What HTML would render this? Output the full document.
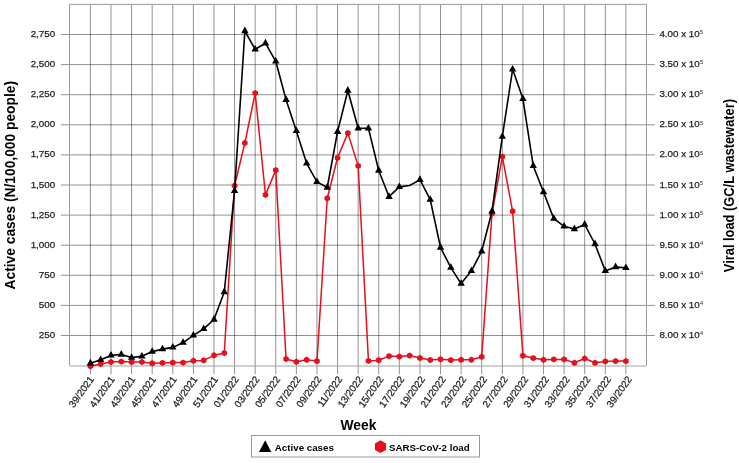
<!DOCTYPE html>
<html><head><meta charset="utf-8"><style>
html,body{margin:0;padding:0;background:#fff;width:739px;height:463px;overflow:hidden}
svg{display:block;font-family:"Liberation Sans",sans-serif;will-change:transform}
.t{fill:#1e1e1e;stroke:#1e1e1e;stroke-width:0.25px}
</style></head><body>
<svg width="739" height="463" viewBox="0 0 739 463">
<rect x="0" y="0" width="739" height="463" fill="#fff"/>
<path d="M90.40 4.4V374.20M110.99 4.4V374.20M131.59 4.4V374.20M152.18 4.4V374.20M172.78 4.4V374.20M193.38 4.4V374.20M213.97 4.4V374.20M234.57 4.4V374.20M255.16 4.4V374.20M275.76 4.4V374.20M296.36 4.4V374.20M316.95 4.4V374.20M337.55 4.4V374.20M358.14 4.4V374.20M378.74 4.4V374.20M399.34 4.4V374.20M419.93 4.4V374.20M440.53 4.4V374.20M461.12 4.4V374.20M481.72 4.4V374.20M502.32 4.4V374.20M522.91 4.4V374.20M543.51 4.4V374.20M564.10 4.4V374.20M584.70 4.4V374.20M605.30 4.4V374.20M625.89 4.4V374.20M60.90 34.50H654.80M60.90 64.60H654.80M60.90 94.70H654.80M60.90 124.80H654.80M60.90 154.90H654.80M60.90 185.00H654.80M60.90 215.10H654.80M60.90 245.20H654.80M60.90 275.30H654.80M60.90 305.40H654.80M60.90 335.50H654.80" stroke="#000" stroke-opacity="0.43" stroke-width="1" fill="none"/>
<path d="M69.5 365.6V4.4H646.5V365.6" stroke="#9a9a9a" stroke-width="1" fill="none"/>
<path d="M69.5 366H646.5" stroke="#a0a0a0" stroke-width="1" fill="none"/>
<path d="M90.40 366.20 L100.70 364.00 L111.00 362.00 L121.29 361.60 L131.59 362.10 L141.89 362.00 L152.19 363.30 L162.49 362.90 L172.78 362.60 L183.08 362.60 L193.38 360.80 L203.68 360.40 L213.98 355.30 L224.27 353.00 L234.57 185.70 L244.87 143.00 L255.17 93.10 L265.47 194.90 L275.76 170.10 L286.06 359.00 L296.36 361.80 L306.66 359.80 L316.96 361.10 L327.25 198.30 L337.55 157.80 L347.85 133.10 L358.15 165.90 L368.45 360.90 L378.74 360.20 L389.04 356.10 L399.34 356.60 L409.64 355.60 L419.94 358.00 L430.23 360.00 L440.53 359.30 L450.83 360.10 L461.13 359.80 L471.43 359.80 L481.72 356.80 L492.02 213.60 L502.32 156.70 L512.62 211.30 L522.92 355.70 L533.21 358.10 L543.51 359.80 L553.81 359.40 L564.11 359.40 L574.41 362.80 L584.70 358.50 L595.00 362.80 L605.30 361.40 L615.60 361.10 L625.90 361.10" stroke="#e5101c" stroke-width="1.5" fill="none" stroke-linejoin="round"/>
<path d="M90.40 363.00L93.17 364.60L93.17 367.80L90.40 369.40L87.63 367.80L87.63 364.60ZM100.70 360.80L103.47 362.40L103.47 365.60L100.70 367.20L97.93 365.60L97.93 362.40ZM111.00 358.80L113.77 360.40L113.77 363.60L111.00 365.20L108.22 363.60L108.22 360.40ZM121.29 358.40L124.07 360.00L124.07 363.20L121.29 364.80L118.52 363.20L118.52 360.00ZM131.59 358.90L134.36 360.50L134.36 363.70L131.59 365.30L128.82 363.70L128.82 360.50ZM141.89 358.80L144.66 360.40L144.66 363.60L141.89 365.20L139.12 363.60L139.12 360.40ZM152.19 360.10L154.96 361.70L154.96 364.90L152.19 366.50L149.42 364.90L149.42 361.70ZM162.49 359.70L165.26 361.30L165.26 364.50L162.49 366.10L159.71 364.50L159.71 361.30ZM172.78 359.40L175.56 361.00L175.56 364.20L172.78 365.80L170.01 364.20L170.01 361.00ZM183.08 359.40L185.85 361.00L185.85 364.20L183.08 365.80L180.31 364.20L180.31 361.00ZM193.38 357.60L196.15 359.20L196.15 362.40L193.38 364.00L190.61 362.40L190.61 359.20ZM203.68 357.20L206.45 358.80L206.45 362.00L203.68 363.60L200.91 362.00L200.91 358.80ZM213.98 352.10L216.75 353.70L216.75 356.90L213.98 358.50L211.20 356.90L211.20 353.70ZM224.27 349.80L227.05 351.40L227.05 354.60L224.27 356.20L221.50 354.60L221.50 351.40ZM234.57 182.50L237.34 184.10L237.34 187.30L234.57 188.90L231.80 187.30L231.80 184.10ZM244.87 139.80L247.64 141.40L247.64 144.60L244.87 146.20L242.10 144.60L242.10 141.40ZM255.17 89.90L257.94 91.50L257.94 94.70L255.17 96.30L252.40 94.70L252.40 91.50ZM265.47 191.70L268.24 193.30L268.24 196.50L265.47 198.10L262.69 196.50L262.69 193.30ZM275.76 166.90L278.54 168.50L278.54 171.70L275.76 173.30L272.99 171.70L272.99 168.50ZM286.06 355.80L288.83 357.40L288.83 360.60L286.06 362.20L283.29 360.60L283.29 357.40ZM296.36 358.60L299.13 360.20L299.13 363.40L296.36 365.00L293.59 363.40L293.59 360.20ZM306.66 356.60L309.43 358.20L309.43 361.40L306.66 363.00L303.89 361.40L303.89 358.20ZM316.96 357.90L319.73 359.50L319.73 362.70L316.96 364.30L314.18 362.70L314.18 359.50ZM327.25 195.10L330.03 196.70L330.03 199.90L327.25 201.50L324.48 199.90L324.48 196.70ZM337.55 154.60L340.32 156.20L340.32 159.40L337.55 161.00L334.78 159.40L334.78 156.20ZM347.85 129.90L350.62 131.50L350.62 134.70L347.85 136.30L345.08 134.70L345.08 131.50ZM358.15 162.70L360.92 164.30L360.92 167.50L358.15 169.10L355.38 167.50L355.38 164.30ZM368.45 357.70L371.22 359.30L371.22 362.50L368.45 364.10L365.67 362.50L365.67 359.30ZM378.74 357.00L381.52 358.60L381.52 361.80L378.74 363.40L375.97 361.80L375.97 358.60ZM389.04 352.90L391.81 354.50L391.81 357.70L389.04 359.30L386.27 357.70L386.27 354.50ZM399.34 353.40L402.11 355.00L402.11 358.20L399.34 359.80L396.57 358.20L396.57 355.00ZM409.64 352.40L412.41 354.00L412.41 357.20L409.64 358.80L406.87 357.20L406.87 354.00ZM419.94 354.80L422.71 356.40L422.71 359.60L419.94 361.20L417.16 359.60L417.16 356.40ZM430.23 356.80L433.01 358.40L433.01 361.60L430.23 363.20L427.46 361.60L427.46 358.40ZM440.53 356.10L443.30 357.70L443.30 360.90L440.53 362.50L437.76 360.90L437.76 357.70ZM450.83 356.90L453.60 358.50L453.60 361.70L450.83 363.30L448.06 361.70L448.06 358.50ZM461.13 356.60L463.90 358.20L463.90 361.40L461.13 363.00L458.36 361.40L458.36 358.20ZM471.43 356.60L474.20 358.20L474.20 361.40L471.43 363.00L468.65 361.40L468.65 358.20ZM481.72 353.60L484.50 355.20L484.50 358.40L481.72 360.00L478.95 358.40L478.95 355.20ZM492.02 210.40L494.79 212.00L494.79 215.20L492.02 216.80L489.25 215.20L489.25 212.00ZM502.32 153.50L505.09 155.10L505.09 158.30L502.32 159.90L499.55 158.30L499.55 155.10ZM512.62 208.10L515.39 209.70L515.39 212.90L512.62 214.50L509.85 212.90L509.85 209.70ZM522.92 352.50L525.69 354.10L525.69 357.30L522.92 358.90L520.14 357.30L520.14 354.10ZM533.21 354.90L535.99 356.50L535.99 359.70L533.21 361.30L530.44 359.70L530.44 356.50ZM543.51 356.60L546.28 358.20L546.28 361.40L543.51 363.00L540.74 361.40L540.74 358.20ZM553.81 356.20L556.58 357.80L556.58 361.00L553.81 362.60L551.04 361.00L551.04 357.80ZM564.11 356.20L566.88 357.80L566.88 361.00L564.11 362.60L561.34 361.00L561.34 357.80ZM574.41 359.60L577.18 361.20L577.18 364.40L574.41 366.00L571.63 364.40L571.63 361.20ZM584.70 355.30L587.48 356.90L587.48 360.10L584.70 361.70L581.93 360.10L581.93 356.90ZM595.00 359.60L597.77 361.20L597.77 364.40L595.00 366.00L592.23 364.40L592.23 361.20ZM605.30 358.20L608.07 359.80L608.07 363.00L605.30 364.60L602.53 363.00L602.53 359.80ZM615.60 357.90L618.37 359.50L618.37 362.70L615.60 364.30L612.83 362.70L612.83 359.50ZM625.90 357.90L628.67 359.50L628.67 362.70L625.90 364.30L623.12 362.70L623.12 359.50Z" fill="#e5101c"/>
<path d="M90.40 363.20 L100.70 359.80 L111.00 355.40 L121.29 354.50 L131.59 357.60 L141.89 356.30 L152.19 351.60 L162.49 349.10 L172.78 347.40 L183.08 342.60 L193.38 335.40 L203.68 328.80 L213.98 319.50 L224.27 292.00 L234.57 190.80 L244.87 31.00 L255.17 49.30 L265.47 43.20 L275.76 61.30 L286.06 99.70 L296.36 130.90 L306.66 163.30 L316.96 181.90 L327.25 187.50 L337.55 131.70 L347.85 90.50 L358.15 128.20 L368.45 128.40 L378.74 170.50 L389.04 196.70 L399.34 186.90 L409.64 185.50 L419.94 179.70 L430.23 199.60 L440.53 247.50 L450.83 267.60 L461.13 283.60 L471.43 270.80 L481.72 251.20 L492.02 211.20 L502.32 136.60 L512.62 69.30 L522.92 98.80 L533.21 165.70 L543.51 192.00 L553.81 218.60 L564.11 226.30 L574.41 229.00 L584.70 224.50 L595.00 244.00 L605.30 270.90 L615.60 267.00 L625.90 267.90" stroke="#000" stroke-width="1.6" fill="none" stroke-linejoin="round"/>
<path d="M90.40 358.80L94.10 365.40L86.70 365.40ZM100.70 355.40L104.40 362.00L97.00 362.00ZM111.00 351.00L114.70 357.60L107.30 357.60ZM121.29 350.10L124.99 356.70L117.59 356.70ZM131.59 353.20L135.29 359.80L127.89 359.80ZM141.89 351.90L145.59 358.50L138.19 358.50ZM152.19 347.20L155.89 353.80L148.49 353.80ZM162.49 344.70L166.19 351.30L158.79 351.30ZM172.78 343.00L176.48 349.60L169.08 349.60ZM183.08 338.20L186.78 344.80L179.38 344.80ZM193.38 331.00L197.08 337.60L189.68 337.60ZM203.68 324.40L207.38 331.00L199.98 331.00ZM213.98 315.10L217.68 321.70L210.28 321.70ZM224.27 287.60L227.97 294.20L220.57 294.20ZM234.57 186.40L238.27 193.00L230.87 193.00ZM244.87 26.60L248.57 33.20L241.17 33.20ZM255.17 44.90L258.87 51.50L251.47 51.50ZM265.47 38.80L269.17 45.40L261.77 45.40ZM275.76 56.90L279.46 63.50L272.06 63.50ZM286.06 95.30L289.76 101.90L282.36 101.90ZM296.36 126.50L300.06 133.10L292.66 133.10ZM306.66 158.90L310.36 165.50L302.96 165.50ZM316.96 177.50L320.66 184.10L313.26 184.10ZM327.25 183.10L330.95 189.70L323.55 189.70ZM337.55 127.30L341.25 133.90L333.85 133.90ZM347.85 86.10L351.55 92.70L344.15 92.70ZM358.15 123.80L361.85 130.40L354.45 130.40ZM368.45 124.00L372.15 130.60L364.75 130.60ZM378.74 166.10L382.44 172.70L375.04 172.70ZM389.04 192.30L392.74 198.90L385.34 198.90ZM399.34 182.50L403.04 189.10L395.64 189.10ZM419.94 175.30L423.64 181.90L416.24 181.90ZM430.23 195.20L433.93 201.80L426.53 201.80ZM440.53 243.10L444.23 249.70L436.83 249.70ZM450.83 263.20L454.53 269.80L447.13 269.80ZM461.13 279.20L464.83 285.80L457.43 285.80ZM471.43 266.40L475.13 273.00L467.73 273.00ZM481.72 246.80L485.42 253.40L478.02 253.40ZM492.02 206.80L495.72 213.40L488.32 213.40ZM502.32 132.20L506.02 138.80L498.62 138.80ZM512.62 64.90L516.32 71.50L508.92 71.50ZM522.92 94.40L526.62 101.00L519.22 101.00ZM533.21 161.30L536.91 167.90L529.51 167.90ZM543.51 187.60L547.21 194.20L539.81 194.20ZM553.81 214.20L557.51 220.80L550.11 220.80ZM564.11 221.90L567.81 228.50L560.41 228.50ZM574.41 224.60L578.11 231.20L570.71 231.20ZM584.70 220.10L588.40 226.70L581.00 226.70ZM595.00 239.60L598.70 246.20L591.30 246.20ZM605.30 266.50L609.00 273.10L601.60 273.10ZM615.60 262.60L619.30 269.20L611.90 269.20ZM625.90 263.50L629.60 270.10L622.20 270.10Z" fill="#000"/>
<text x="55.2" y="37.00" text-anchor="end" font-size="9.8" class="t">2,750</text>
<text x="55.2" y="67.10" text-anchor="end" font-size="9.8" class="t">2,500</text>
<text x="55.2" y="97.20" text-anchor="end" font-size="9.8" class="t">2,250</text>
<text x="55.2" y="127.30" text-anchor="end" font-size="9.8" class="t">2,000</text>
<text x="55.2" y="157.40" text-anchor="end" font-size="9.8" class="t">1,750</text>
<text x="55.2" y="187.50" text-anchor="end" font-size="9.8" class="t">1,500</text>
<text x="55.2" y="217.60" text-anchor="end" font-size="9.8" class="t">1,250</text>
<text x="55.2" y="247.70" text-anchor="end" font-size="9.8" class="t">1,000</text>
<text x="55.2" y="277.80" text-anchor="end" font-size="9.8" class="t">750</text>
<text x="55.2" y="307.90" text-anchor="end" font-size="9.8" class="t">500</text>
<text x="55.2" y="338.00" text-anchor="end" font-size="9.8" class="t">250</text>
<text x="659.4" y="37.00" font-size="9.8" class="t">4.00 x 10<tspan font-size="5.6" dx="0.3" dy="-2.8" style="stroke-width:0">5</tspan></text>
<text x="659.4" y="67.10" font-size="9.8" class="t">3.50 x 10<tspan font-size="5.6" dx="0.3" dy="-2.8" style="stroke-width:0">5</tspan></text>
<text x="659.4" y="97.20" font-size="9.8" class="t">3.00 x 10<tspan font-size="5.6" dx="0.3" dy="-2.8" style="stroke-width:0">5</tspan></text>
<text x="659.4" y="127.30" font-size="9.8" class="t">2.50 x 10<tspan font-size="5.6" dx="0.3" dy="-2.8" style="stroke-width:0">5</tspan></text>
<text x="659.4" y="157.40" font-size="9.8" class="t">2.00 x 10<tspan font-size="5.6" dx="0.3" dy="-2.8" style="stroke-width:0">5</tspan></text>
<text x="659.4" y="187.50" font-size="9.8" class="t">1.50 x 10<tspan font-size="5.6" dx="0.3" dy="-2.8" style="stroke-width:0">5</tspan></text>
<text x="659.4" y="217.60" font-size="9.8" class="t">1.00 x 10<tspan font-size="5.6" dx="0.3" dy="-2.8" style="stroke-width:0">5</tspan></text>
<text x="659.4" y="247.70" font-size="9.8" class="t">9.50 x 10<tspan font-size="5.6" dx="0.3" dy="-2.8" style="stroke-width:0">4</tspan></text>
<text x="659.4" y="277.80" font-size="9.8" class="t">9.00 x 10<tspan font-size="5.6" dx="0.3" dy="-2.8" style="stroke-width:0">4</tspan></text>
<text x="659.4" y="307.90" font-size="9.8" class="t">8.50 x 10<tspan font-size="5.6" dx="0.3" dy="-2.8" style="stroke-width:0">4</tspan></text>
<text x="659.4" y="338.00" font-size="9.8" class="t">8.00 x 10<tspan font-size="5.6" dx="0.3" dy="-2.8" style="stroke-width:0">4</tspan></text>
<text transform="translate(94.40 379.20) rotate(-54.6)" text-anchor="end" font-size="9.85" class="t">39/2021</text>
<text transform="translate(115.08 379.20) rotate(-54.6)" text-anchor="end" font-size="9.85" class="t">41/2021</text>
<text transform="translate(135.77 379.20) rotate(-54.6)" text-anchor="end" font-size="9.85" class="t">43/2021</text>
<text transform="translate(156.45 379.20) rotate(-54.6)" text-anchor="end" font-size="9.85" class="t">45/2021</text>
<text transform="translate(177.14 379.20) rotate(-54.6)" text-anchor="end" font-size="9.85" class="t">47/2021</text>
<text transform="translate(197.83 379.20) rotate(-54.6)" text-anchor="end" font-size="9.85" class="t">49/2021</text>
<text transform="translate(218.51 379.20) rotate(-54.6)" text-anchor="end" font-size="9.85" class="t">51/2021</text>
<text transform="translate(239.20 379.20) rotate(-54.6)" text-anchor="end" font-size="9.85" class="t">01/2022</text>
<text transform="translate(259.88 379.20) rotate(-54.6)" text-anchor="end" font-size="9.85" class="t">03/2022</text>
<text transform="translate(280.57 379.20) rotate(-54.6)" text-anchor="end" font-size="9.85" class="t">05/2022</text>
<text transform="translate(301.26 379.20) rotate(-54.6)" text-anchor="end" font-size="9.85" class="t">07/2022</text>
<text transform="translate(321.94 379.20) rotate(-54.6)" text-anchor="end" font-size="9.85" class="t">09/2022</text>
<text transform="translate(342.63 379.20) rotate(-54.6)" text-anchor="end" font-size="9.85" class="t">11/2022</text>
<text transform="translate(363.31 379.20) rotate(-54.6)" text-anchor="end" font-size="9.85" class="t">13/2022</text>
<text transform="translate(384.00 379.20) rotate(-54.6)" text-anchor="end" font-size="9.85" class="t">15/2022</text>
<text transform="translate(404.69 379.20) rotate(-54.6)" text-anchor="end" font-size="9.85" class="t">17/2022</text>
<text transform="translate(425.37 379.20) rotate(-54.6)" text-anchor="end" font-size="9.85" class="t">19/2022</text>
<text transform="translate(446.06 379.20) rotate(-54.6)" text-anchor="end" font-size="9.85" class="t">21/2022</text>
<text transform="translate(466.74 379.20) rotate(-54.6)" text-anchor="end" font-size="9.85" class="t">23/2022</text>
<text transform="translate(487.43 379.20) rotate(-54.6)" text-anchor="end" font-size="9.85" class="t">25/2022</text>
<text transform="translate(508.12 379.20) rotate(-54.6)" text-anchor="end" font-size="9.85" class="t">27/2022</text>
<text transform="translate(528.80 379.20) rotate(-54.6)" text-anchor="end" font-size="9.85" class="t">29/2022</text>
<text transform="translate(549.49 379.20) rotate(-54.6)" text-anchor="end" font-size="9.85" class="t">31/2022</text>
<text transform="translate(570.17 379.20) rotate(-54.6)" text-anchor="end" font-size="9.85" class="t">33/2022</text>
<text transform="translate(590.86 379.20) rotate(-54.6)" text-anchor="end" font-size="9.85" class="t">35/2022</text>
<text transform="translate(611.55 379.20) rotate(-54.6)" text-anchor="end" font-size="9.85" class="t">37/2022</text>
<text transform="translate(632.23 379.20) rotate(-54.6)" text-anchor="end" font-size="9.85" class="t">39/2022</text>
<text transform="translate(15.0 185.2) rotate(-90)" text-anchor="middle" font-size="14" font-weight="bold" fill="#000" textLength="208.5" lengthAdjust="spacingAndGlyphs">Active cases (N/100,000 people)</text>
<text transform="translate(733.7 185.6) rotate(-90)" text-anchor="middle" font-size="14" font-weight="bold" fill="#000" textLength="173.2" lengthAdjust="spacingAndGlyphs">Viral load (GC/L wastewater)</text>
<text x="358.5" y="430" text-anchor="middle" font-size="13.8" font-weight="bold" fill="#000">Week</text>
<rect x="251.5" y="435.5" width="228" height="21.5" fill="#fff" stroke="#999" stroke-width="1"/>
<path d="M265.2 440.3L271.3 451.9L259 451.9Z" fill="#000"/>
<path d="M380.50 440.30L386.04 443.50L386.04 449.90L380.50 453.10L374.96 449.90L374.96 443.50Z" fill="#e5101c"/>
<text x="274.8" y="450.8" font-size="9.75" font-weight="bold" fill="#000">Active cases</text>
<text x="389" y="450.8" font-size="9.75" font-weight="bold" fill="#000">SARS-CoV-2 load</text>
</svg>
</body></html>
